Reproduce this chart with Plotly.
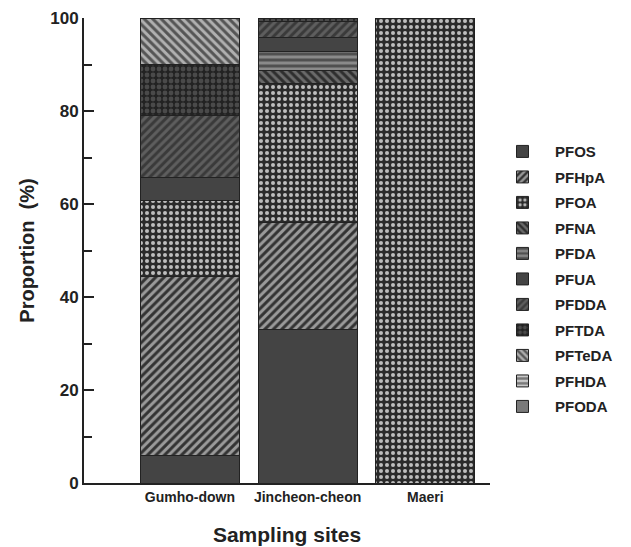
import plotly.graph_objects as go

sites = ["Gumho-down", "Jincheon-cheon", "Maeri"]
compounds = ["PFOS", "PFHpA", "PFOA", "PFNA", "PFDA", "PFUA", "PFDDA", "PFTDA", "PFTeDA", "PFHDA", "PFODA"]
values = {
    "PFOS":   [6.0, 33.0, 0.0],
    "PFHpA":  [38.5, 23.0, 0.0],
    "PFOA":   [16.2, 30.0, 100.0],
    "PFNA":   [0.0, 2.8, 0.0],
    "PFDA":   [0.0, 4.1, 0.0],
    "PFUA":   [4.9, 3.0, 0.0],
    "PFDDA":  [13.4, 3.3, 0.0],
    "PFTDA":  [10.9, 0.8, 0.0],
    "PFTeDA": [10.1, 0.0, 0.0],
    "PFHDA":  [0.0, 0.0, 0.0],
    "PFODA":  [0.0, 0.0, 0.0],
}
yticks = [0, 20, 40, 60, 80, 100]

styles = {
    "PFOS":   dict(bg="#444444", shape="", fg="#444444", sol=0.5),
    "PFHpA":  dict(bg="#9a9a9a", shape="/", fg="#333333", sol=0.5),
    "PFOA":   dict(bg="#2a2a2a", shape=".", fg="#bdbdbd", sol=0.35),
    "PFNA":   dict(bg="#6a6a6a", shape="\\", fg="#2e2e2e", sol=0.5),
    "PFDA":   dict(bg="#505050", shape="-", fg="#8a8a8a", sol=0.5),
    "PFUA":   dict(bg="#444444", shape="", fg="#444444", sol=0.5),
    "PFDDA":  dict(bg="#3a3a3a", shape="/", fg="#5e5e5e", sol=0.5),
    "PFTDA":  dict(bg="#222222", shape=".", fg="#4a4a4a", sol=0.5),
    "PFTeDA": dict(bg="#b0b0b0", shape="\\", fg="#555555", sol=0.5),
    "PFHDA":  dict(bg="#c8c8c8", shape="-", fg="#777777", sol=0.5),
    "PFODA":  dict(bg="#7a7a7a", shape="", fg="#7a7a7a", sol=0.5),
}

xpos = list(range(len(sites)))
fig = go.Figure()
for c in compounds:
    s = styles[c]
    fig.add_trace(go.Bar(
        x=xpos, y=values[c], name=c, legendgroup=c,
        width=0.84,
        marker=dict(
            color=s["bg"],
            line=dict(color="#222222", width=1),
            pattern=dict(shape=s["shape"], fgcolor=s["fg"], bgcolor=s["bg"],
                         size=6, solidity=s["sol"], fillmode="replace"),
        ),
    ))

font_family = "Liberation Sans, Arial, sans-serif"
fig.update_layout(
    width=631, height=547,
    margin=dict(l=76, r=149, t=10, b=72, autoexpand=False),
    barmode="stack",
    plot_bgcolor="white", paper_bgcolor="white",
    font=dict(family=font_family, color="#222222", weight="bold"),
    legend=dict(x=1.0, y=0.748, xanchor="left", yanchor="top",
                traceorder="grouped", font=dict(size=15, weight="bold"),
                itemwidth=55, tracegroupgap=3, bgcolor="rgba(0,0,0,0)"),
    xaxis=dict(
        tickmode="array", tickvals=xpos, ticktext=sites,
        range=[-0.9, 2.55], showline=True, linecolor="#222222", linewidth=2,
        ticks="", showgrid=False, zeroline=False, automargin=False,
        tickfont=dict(size=14, weight="bold"),
        title=dict(text="Sampling sites", font=dict(size=21, weight="bold"), standoff=24),
    ),
    yaxis=dict(
        range=[0, 100], tickmode="array", tickvals=yticks,
        showline=True, linecolor="#222222", linewidth=2,
        ticks="inside", ticklen=10, tickwidth=2, tickcolor="#222222",
        minor=dict(tickvals=[10, 30, 50, 70, 90], ticks="inside", ticklen=8, tickwidth=1.5, tickcolor="#222222"),
        showgrid=False, zeroline=False, automargin=False,
        tickfont=dict(size=17, weight="bold"),
        title=dict(text="Proportion  (%)", font=dict(size=20, weight="bold"), standoff=10),
    ),
)
fig.write_html("out.html")
